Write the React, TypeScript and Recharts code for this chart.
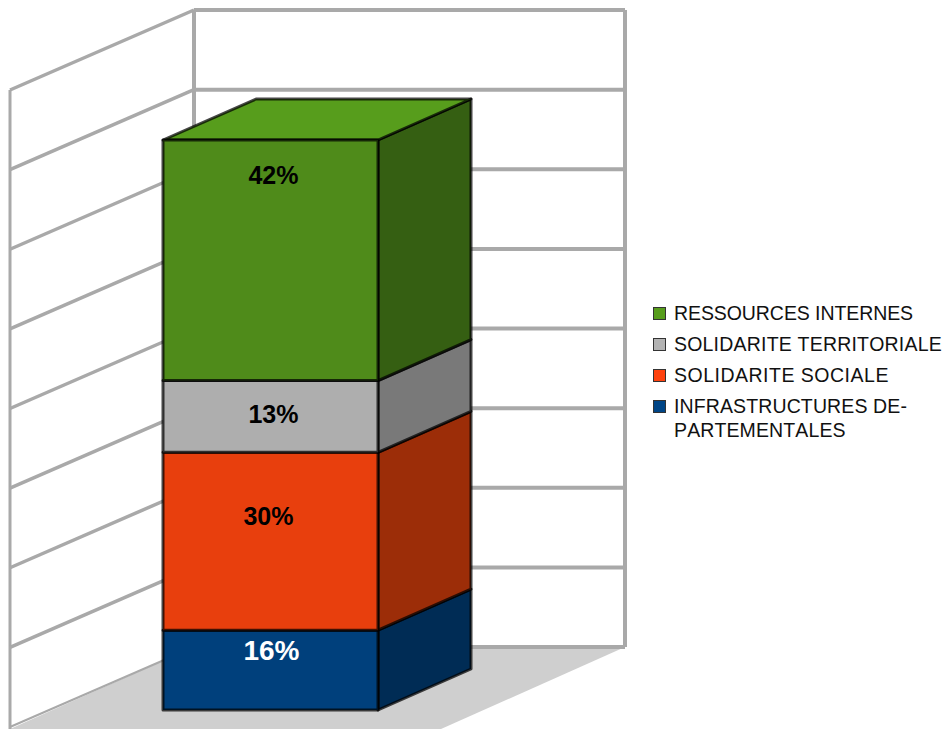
import { BarChart, Bar, XAxis, YAxis, Legend, LabelList } from 'recharts'

const categories = ['Budget']
const seriesNames = ['INFRASTRUCTURES DE-PARTEMENTALES', 'SOLIDARITE SOCIALE', 'SOLIDARITE TERRITORIALE', 'RESSOURCES INTERNES']
// bar heights (share of the column)
const infrastructures = [14]
const sociale = [31.2]
const territoriale = [12.6]
const internes = [42.2]
const percentLabels = ['16%', '30%', '13%', '42%']

const legendColors = ['#004586', '#ff420e', '#b3b3b3', '#579d1c']
const frontColors = ['#00407c', '#e83f0d', '#aeaeae', '#4f8b1a']
const sideColors = ['#002c55', '#9c2d08', '#797979', '#355f12']
const labelColors = ['#fff', '#000', '#000', '#000']
const labelSizes = [28, 25, 25, 25]
const labelOffsets = [10, 55, 25, 26]
const labelShifts = [1, -2, 3, 3]
const legendSpacing = [0.12, 0.5, 0.2, -0.08]

const seriesValues = [infrastructures, sociale, territoriale, internes]
const keys = ['s0', 's1', 's2', 's3']

const data = categories.map((name, i) => {
  const row: Record<string, string | number> = { name }
  keys.forEach((k, j) => {
    row[k] = seriesValues[j][i]
    row[k + 'Label'] = percentLabels[j]
  })
  return row
})

const WIDTH = 945
const HEIGHT = 729
const DEPTH_X = 93
const DEPTH_Y = -41
const BOX_STROKE = 'rgba(0,0,0,0.72)'
const WALL = '#a9a9a9'

const wallTicks = [0, 1, 2, 3, 4, 5, 6, 7, 8]

function Walls() {
  const left = 10
  const back = 194
  const right = 625
  const top = 10
  const floor = 647
  const step = (floor - top) / 8
  return (
    <g>
      <polygon points={`${left},729 ${back},${floor} ${right},${floor} 441,729`} fill="#cfcfcf" />
      <line x1={left} y1={90} x2={left} y2={729} stroke={WALL} strokeWidth={3} />
      <line x1={back} y1={top} x2={back} y2={floor} stroke={WALL} strokeWidth={4} />
      <line x1={right} y1={top} x2={right} y2={floor} stroke={WALL} strokeWidth={4} />
      {wallTicks.map((t) => {
        const y = top + t * step
        return (
          <g key={t}>
            <line x1={back} y1={y} x2={right} y2={y} stroke={WALL} strokeWidth={4} />
            <line x1={left} y1={y + 80} x2={back} y2={y} stroke={WALL} strokeWidth={t === 8 ? 2 : 3.5} />
          </g>
        )
      })}
    </g>
  )
}

function box(index: number, showTop: boolean) {
  return (props: any) => {
    const { x, y, width, height } = props
    const r = x + width
    const b = y + height
    return (
      <g stroke={BOX_STROKE} strokeWidth={3} strokeLinejoin="round">
        <polygon
          points={`${r},${y} ${r + DEPTH_X},${y + DEPTH_Y} ${r + DEPTH_X},${b + DEPTH_Y} ${r},${b}`}
          fill={sideColors[index]}
        />
        {showTop && (
          <polygon
            points={`${x},${y} ${x + DEPTH_X},${y + DEPTH_Y} ${r + DEPTH_X},${y + DEPTH_Y} ${r},${y}`}
            fill={legendColors[index]}
          />
        )}
        <rect x={x} y={y} width={width} height={height} fill={frontColors[index]} />
      </g>
    )
  }
}

function LegendBox() {
  const rows = seriesNames.map((n, i) => ({ n, i })).reverse()
  return (
    <div
      style={{
        fontFamily: '"Liberation Sans", Arial, sans-serif',
        fontSize: 19.5,
        lineHeight: '24px',
        color: '#111',
        fontKerning: 'none',
      }}
    >
      {rows.map(({ n, i }) => (
        <div key={n} style={{ display: 'flex', marginBottom: 7, letterSpacing: legendSpacing[i] }}>
          <span
            style={{
              width: 13,
              height: 13,
              marginTop: 6,
              marginRight: 8,
              flex: 'none',
              background: legendColors[i],
              border: '1px solid #333',
              boxSizing: 'border-box',
            }}
          />
          <span style={{ width: 270 }}>{n}</span>
        </div>
      ))}
    </div>
  )
}

export default function App() {
  return (
    <div style={{ position: 'absolute', left: 0, top: 0 }}>
      <BarChart
        width={WIDTH}
        height={HEIGHT}
        data={data}
        margin={{ top: 140, right: 567, bottom: 19, left: 163 }}
        barCategoryGap={0}
      >
        <Walls />
        <XAxis dataKey="name" hide />
        <YAxis hide domain={[0, 100]} />
        <Legend
          content={<LegendBox />}
          layout="horizontal"
          align="center"
          verticalAlign="middle"
          wrapperStyle={{ position: 'absolute', left: 653, top: 301, width: 292, bottom: 'auto' }}
        />
        {keys.map((k, i) => (
          <Bar
            key={k}
            dataKey={k}
            name={seriesNames[i]}
            stackId="a"
            fill={legendColors[i]}
            isAnimationActive={false}
            shape={box(i, i === keys.length - 1)}
          >
            <LabelList
              dataKey={k + 'Label'}
              position="insideTop"
              offset={labelOffsets[i]}
              dx={labelShifts[i]}
              fill={labelColors[i]}
              fontSize={labelSizes[i]}
              fontWeight="bold"
              fontFamily='"Liberation Sans", Arial, sans-serif'
            />
          </Bar>
        ))}
      </BarChart>
    </div>
  )
}
